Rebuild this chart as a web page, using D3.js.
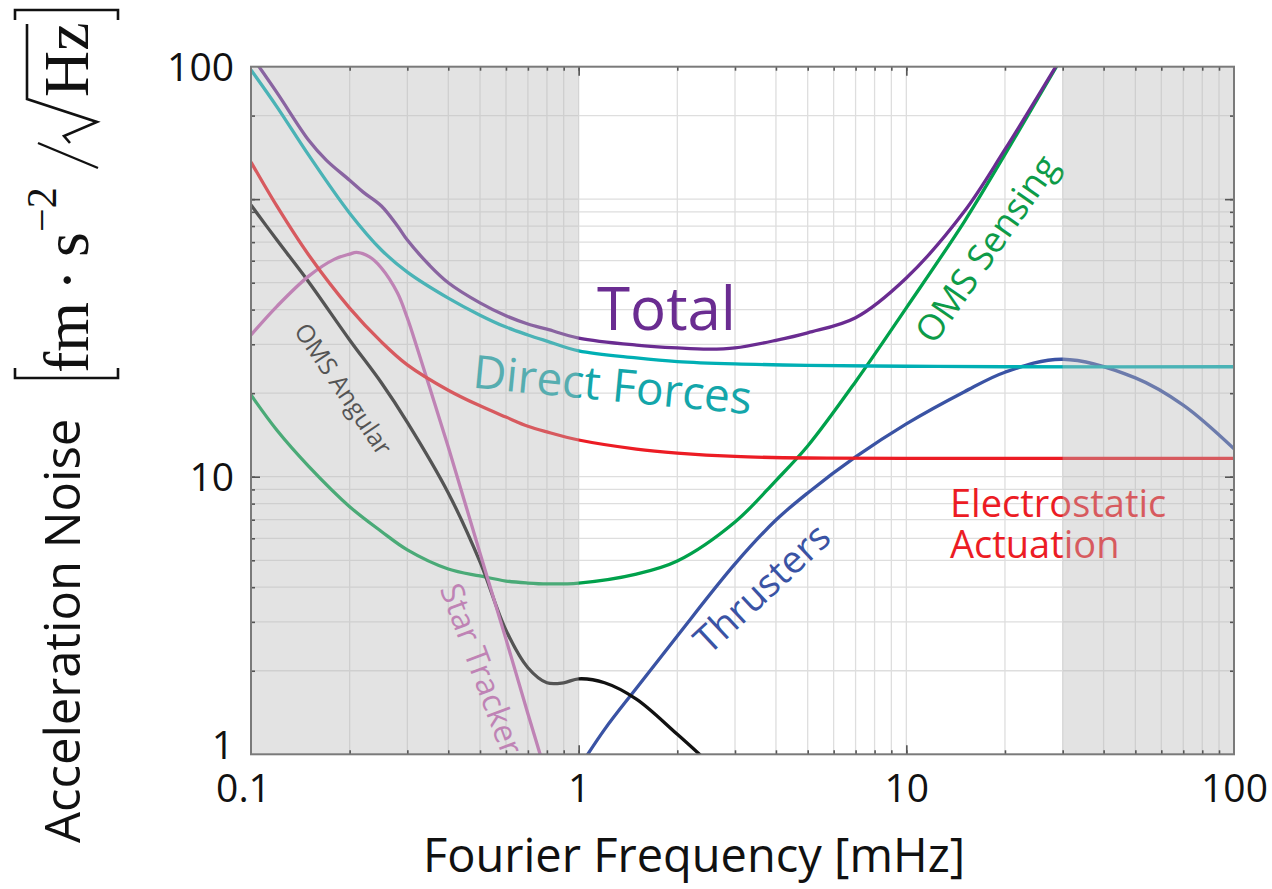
<!DOCTYPE html>
<html>
<head>
<meta charset="utf-8">
<script src="https://cdn.jsdelivr.net/npm/d3@7"></script>
<style>
  body { margin: 0; background: #fff; }
  svg { display: block; }
</style>
</head>
<body>
<svg id="chart" width="1272" height="889"></svg>
<script>
// ---- noise budget data (frequency in mHz, acceleration noise in fm s^-2 / sqrt(Hz)) ----
const freqTotal = [0.1, 0.12, 0.15, 0.17, 0.2, 0.22, 0.25, 0.28, 0.3, 0.35, 0.4, 0.5, 0.6, 0.7, 0.8, 1, 1.5, 2, 2.5, 3, 4, 5, 7, 10, 15, 20, 30];
const total     = [330, 242, 163, 138, 117, 106, 94.5, 80, 71.2, 57.9, 50, 42.3, 38, 35.5, 34, 31.6, 29.8, 29.1, 28.8, 29.1, 31, 33, 37.4, 52, 90, 151, 330];

const freqDirect = [0.1, 0.12, 0.15, 0.2, 0.25, 0.3, 0.4, 0.5, 0.6, 0.7, 0.8, 1, 1.5, 2, 3, 5, 10, 20, 100];
const directForces = [292, 215, 144, 89, 65.6, 54.6, 44, 38.2, 34.6, 32.4, 30.8, 28.4, 26.8, 26.0, 25.5, 25.2, 25.0, 24.9, 24.9];

const freqElectro = [0.1, 0.12, 0.15, 0.2, 0.25, 0.3, 0.4, 0.5, 0.6, 0.7, 0.8, 1, 1.5, 2, 3, 5, 10, 100];
const electrostatic = [136, 94.3, 62.9, 40.5, 30.6, 25.3, 20.5, 18.0, 16.4, 15.2, 14.5, 13.56, 12.58, 12.17, 11.83, 11.68, 11.65, 11.65];

const freqSensing = [0.1, 0.12, 0.15, 0.2, 0.25, 0.3, 0.4, 0.5, 0.6, 0.7, 0.8, 1, 1.5, 2, 3, 4, 5, 7, 10, 15, 20, 30];
const omsSensing  = [19.7, 14.7, 10.9, 7.8, 6.35, 5.45, 4.65, 4.39, 4.21, 4.14, 4.11, 4.14, 4.46, 4.97, 6.87, 9.69, 12.9, 22.0, 40.6, 82.7, 145, 328];

const freqThrusters = [1, 1.2, 1.5, 2, 3, 4, 5, 7, 10, 15, 20, 30, 50, 70, 100];
const thrusters     = [0.89, 1.23, 1.73, 2.67, 4.85, 6.98, 8.74, 11.78, 15.5, 20.2, 23.8, 26.5, 22.7, 18.1, 12.6];

const freqAngular = [0.1, 0.12, 0.15, 0.2, 0.25, 0.3, 0.4, 0.5, 0.6, 0.7, 0.8, 0.9, 1, 1.2, 1.5, 2, 2.5];
const omsAngular  = [95.2, 71.2, 50.3, 31.1, 21.8, 15.7, 8.74, 4.93, 2.80, 2.05, 1.81, 1.81, 1.87, 1.81, 1.58, 1.18, 0.93];

const freqStar = [0.1, 0.12, 0.15, 0.18, 0.2, 0.21, 0.23, 0.25, 0.28, 0.3, 0.32, 0.35, 0.4, 0.5, 0.6, 0.7, 0.8];
const starTracker = [32.4, 41.1, 52.8, 60.8, 63.4, 64.3, 61.9, 56.5, 45.9, 37.3, 29.6, 21.2, 12.8, 5.3, 2.6, 1.4, 0.83];

// axis ticks and labels
const xTickValues = [0.1, 1, 10, 100];
const xTickLabels = ["0.1", "1", "10", "100"];
const yTickValues = [1, 10, 300];
const yTickLabels = ["1", "10", "100"];
const xMajorTicks = [1, 10];
const yMajorTicks = [10, 100];
// frequency bands outside the measurement band
const shadedBands = [[0.1, 1], [30, 100]];

// ---- layout ----
const svg = d3.select("#chart");
const SANS = "'Open Sans', 'Noto Sans', sans-serif";
const SERIF = "'Liberation Serif', 'DejaVu Serif', serif";

const x = d3.scaleLog().domain([0.1, 100]).range([251, 1234]);
const y = d3.scaleLog().domain([1, 300]).range([754.3, 66.7]);
const L = x.range()[0], R = x.range()[1], T = y.range()[1], B = y.range()[0];

svg.append("rect").attr("width", 1272).attr("height", 889).attr("fill", "#fff");

// grid
const decadesX = [0.1, 1, 10];
const xGrid = decadesX.flatMap(d => d3.range(1, 10).map(k => d * k)).filter(v => v > 0.1 * 1.001 && v < 100 * 0.999);
const decadesY = [1, 10, 100];
const yGrid = decadesY.flatMap(d => d3.range(1, 10).map(k => d * k)).filter(v => v > 1.001 && v < 299);

const grid = svg.append("g").attr("stroke", "#dedede").attr("stroke-width", 1.3);
grid.selectAll("line.gx").data(xGrid).join("line")
  .attr("x1", d => x(d)).attr("x2", d => x(d)).attr("y1", T).attr("y2", B);
grid.selectAll("line.gy").data(yGrid).join("line")
  .attr("x1", L).attr("x2", R).attr("y1", d => y(d)).attr("y2", d => y(d));

// curves
svg.append("clipPath").attr("id", "plotClip")
  .append("rect").attr("x", L).attr("y", T).attr("width", R - L).attr("height", B - T);

const series = [
  { f: freqSensing, v: omsSensing, color: "#00a14b" },
  { f: freqThrusters, v: thrusters, color: "#3a53a4" },
  { f: freqAngular, v: omsAngular, color: "#111111" },
  { f: freqStar, v: starTracker, color: "#c45fb3" },
  { f: freqElectro, v: electrostatic, color: "#ec1c24" },
  { f: freqDirect, v: directForces, color: "#00afb4" },
  { f: freqTotal, v: total, color: "#6a2c91" }
];

const line = d3.line().x(d => x(d[0])).y(d => y(d[1])).curve(d3.curveCatmullRom.alpha(0.5));
const curves = svg.append("g").attr("clip-path", "url(#plotClip)");
curves.selectAll("path").data(series).join("path")
  .attr("d", s => line(s.f.map((f, i) => [f, s.v[i]])))
  .attr("fill", "none")
  .attr("stroke", s => s.color)
  .attr("stroke-width", 3.3)
  .attr("stroke-linejoin", "round");

// curve labels
const labels = svg.append("g").attr("font-family", SANS);
labels.append("text").attr("x", 597).attr("y", 330)
  .attr("font-size", 60).attr("fill", "#6a2c91").text("Total");
labels.append("text").attr("transform", "translate(611,401) rotate(5.5)")
  .attr("text-anchor", "middle").attr("font-size", 46).attr("fill", "#14a6aa").text("Direct Forces");
const electro = labels.append("text").attr("font-size", 38).attr("fill", "#ec1c24");
electro.append("tspan").attr("x", 950).attr("y", 517).text("Electrostatic");
electro.append("tspan").attr("x", 950).attr("y", 558).text("Actuation");
labels.append("text").attr("transform", "translate(997,256) rotate(-55)")
  .attr("text-anchor", "middle").attr("font-size", 36).attr("fill", "#0d9b48").text("OMS Sensing");
labels.append("text").attr("transform", "translate(771,598) rotate(-43)")
  .attr("text-anchor", "middle").attr("font-size", 38).attr("fill", "#3a53a4").text("Thrusters");
labels.append("text").attr("transform", "translate(336,394) rotate(56)")
  .attr("text-anchor", "middle").attr("font-size", 25).attr("fill", "#111").text("OMS Angular");
labels.append("text").attr("transform", "translate(471,673) rotate(69.5)")
  .attr("text-anchor", "middle").attr("font-size", 32).attr("fill", "#c45fb3").text("Star Tracker");

// shaded bands, laid over the curves
svg.append("g").selectAll("rect").data(shadedBands).join("rect")
  .attr("x", d => x(d[0])).attr("width", d => x(d[1]) - x(d[0]))
  .attr("y", T).attr("height", B - T)
  .attr("fill", "rgb(185,185,185)").attr("fill-opacity", 0.4);

// ticks (pointing inward on all four sides)
function ticks(axis, tr, values, size) {
  const g = svg.append("g").attr("transform", tr)
    .call(axis.tickValues(values).tickSize(size).tickFormat(""));
  g.select(".domain").remove();
  g.selectAll("line").attr("stroke", "#555").attr("stroke-width", 1.6);
}
ticks(d3.axisTop(x), `translate(0,${B})`, xGrid, 4);
ticks(d3.axisTop(x), `translate(0,${B})`, xMajorTicks, 9);
ticks(d3.axisBottom(x), `translate(0,${T})`, xGrid, 4);
ticks(d3.axisBottom(x), `translate(0,${T})`, xMajorTicks, 9);
ticks(d3.axisRight(y), `translate(${L},0)`, yGrid, 4);
ticks(d3.axisRight(y), `translate(${L},0)`, yMajorTicks, 9);
ticks(d3.axisLeft(y), `translate(${R},0)`, yGrid, 4);
ticks(d3.axisLeft(y), `translate(${R},0)`, yMajorTicks, 9);

// frame
svg.append("rect").attr("x", L).attr("y", T).attr("width", R - L).attr("height", B - T)
  .attr("fill", "none").attr("stroke", "#7a7a7a").attr("stroke-width", 2);

// tick labels
const xLab = svg.append("g").attr("transform", `translate(0,${B})`)
  .call(d3.axisBottom(x).tickValues(xTickValues).tickSize(0).tickFormat((d, i) => xTickLabels[i]));
xLab.select(".domain").remove();
xLab.selectAll("text").attr("font-family", SANS).attr("font-size", 39).attr("fill", "#111")
  .attr("y", 48).attr("dy", 0)
  .attr("dx", (d, i) => i === 0 ? -8 : 0);

const yLab = svg.append("g").attr("transform", `translate(${L},0)`)
  .call(d3.axisLeft(y).tickValues(yTickValues).tickSize(0).tickFormat((d, i) => yTickLabels[i]));
yLab.select(".domain").remove();
yLab.selectAll("text").attr("font-family", SANS).attr("font-size", 39).attr("fill", "#111")
  .attr("x", -17).attr("dy", (d, i) => i === 0 ? "0.12em" : "0.36em");

// axis titles
svg.append("text").attr("x", 694).attr("y", 872).attr("text-anchor", "middle")
  .attr("font-family", SANS).attr("font-size", 47).attr("fill", "#111")
  .text("Fourier Frequency [mHz]");

// y title, written bottom-to-top: local (u, v) -> screen (v, -u)
const yt = svg.append("g").attr("transform", "rotate(-90)").attr("fill", "#111");
yt.append("text").attr("x", -843).attr("y", 80)
  .attr("font-family", SANS).attr("font-size", 49).text("Acceleration Noise");

const unit = yt.append("g").attr("font-family", SERIF);
const mathStroke = g => g.attr("fill", "none").attr("stroke", "#111").attr("stroke-width", 2.6);
unit.append("path").attr("d", "M-368,15 L-378,15 L-378,118 L-368,118").call(mathStroke);
unit.append("path").attr("d", "M-20,15 L-10,15 L-10,118 L-20,118").call(mathStroke);
unit.append("text").attr("x", -373).attr("y", 88).attr("font-size", 64).text("fm");
unit.append("text").attr("x", -280).attr("y", 88).attr("text-anchor", "middle").attr("font-size", 64).text("·");
unit.append("text").attr("x", -257).attr("y", 88).attr("font-size", 64).text("s");
unit.append("text").attr("x", -232).attr("y", 56).attr("font-size", 42).text("−2");
// division slash and radical sign
unit.append("path").attr("d", "M-168,98 L-143,38").call(mathStroke).attr("stroke-width", 2.4);
unit.append("path").attr("d", "M-143,70 L-136,64 L-122,97 L-99,27 L-24,27").call(mathStroke)
  .attr("stroke-linejoin", "miter");
unit.append("text").attr("x", -97).attr("y", 88).attr("font-size", 64).text("Hz");
</script>
</body>
</html>
